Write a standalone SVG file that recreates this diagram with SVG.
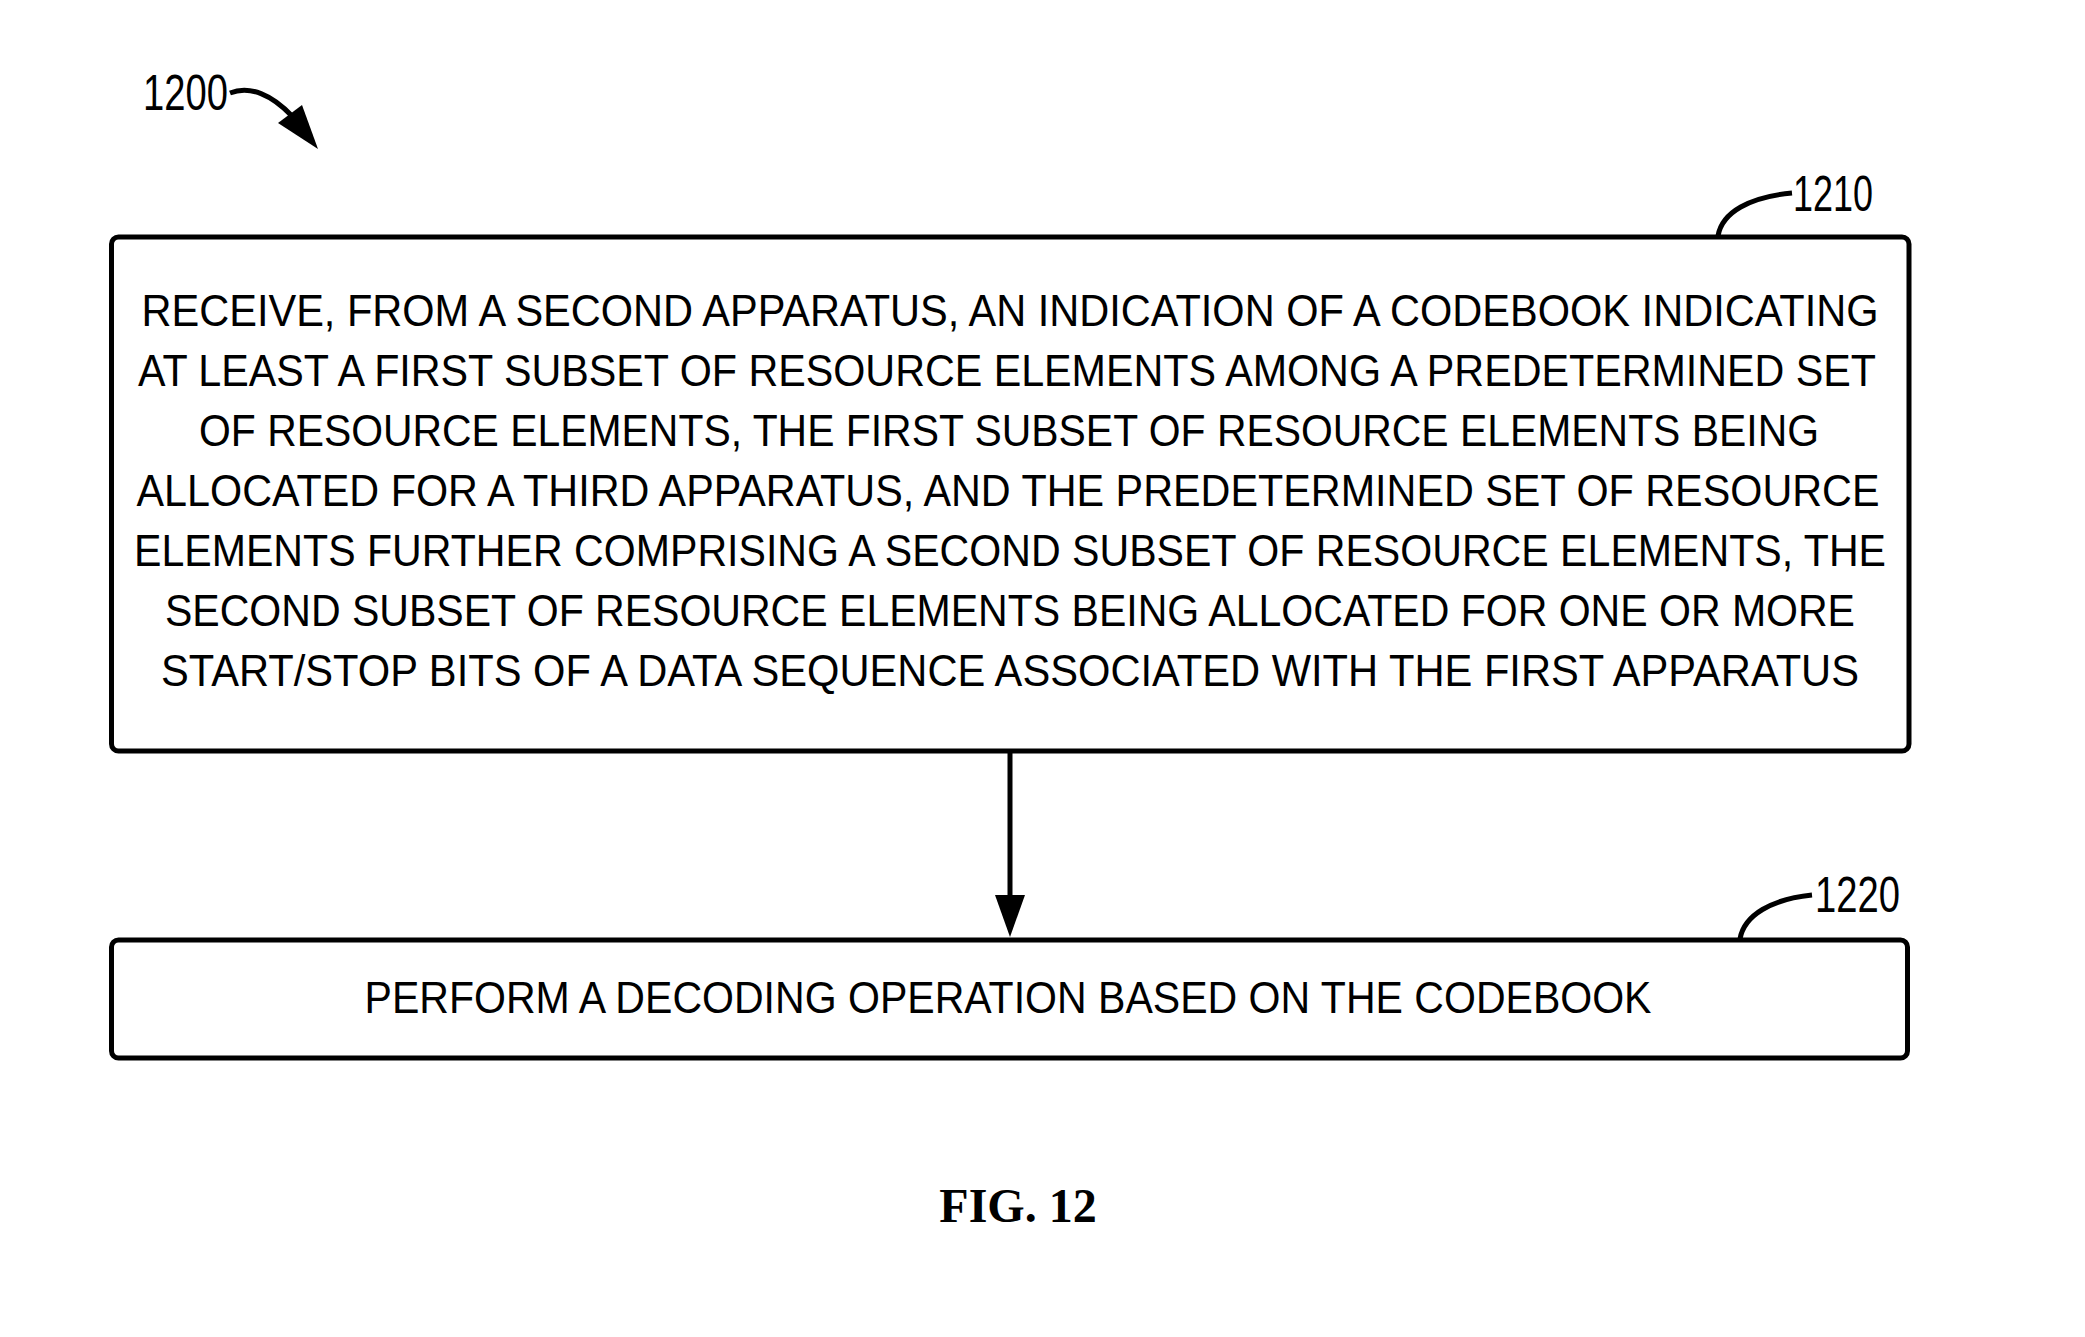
<svg xmlns="http://www.w3.org/2000/svg" width="2085" height="1337" viewBox="0 0 2085 1337">
<style>
.box{fill:#fff;stroke:#000;stroke-width:5}
.t{font-family:"Liberation Sans",Arial,sans-serif;font-size:45px;fill:#000}
.lbl{font-family:"Liberation Sans",Arial,sans-serif;font-size:50px;fill:#000}
.lead{fill:none;stroke:#000;stroke-width:5}
.fig{font-family:"Liberation Serif","Times New Roman",serif;font-size:48px;font-weight:bold;fill:#000}
</style>
<rect width="2085" height="1337" fill="#fff"/>
<g id="label-1200">
<text class="lbl" x="143" y="110" textLength="85" lengthAdjust="spacingAndGlyphs">1200</text>
<path class="lead" d="M230,93 C250,85 272,95 292,116"/>
<polygon points="318,149 278,123 302,105" fill="#000"/>
</g>
<g id="node-1210">
<rect class="box" x="111.5" y="237" width="1797.5" height="514" rx="7"/>
<text class="t" x="1010" y="326" text-anchor="middle" textLength="1737" lengthAdjust="spacingAndGlyphs">RECEIVE, FROM A SECOND APPARATUS, AN INDICATION OF A CODEBOOK INDICATING</text>
<text class="t" x="1007" y="386" text-anchor="middle" textLength="1738" lengthAdjust="spacingAndGlyphs">AT LEAST A FIRST SUBSET OF RESOURCE ELEMENTS AMONG A PREDETERMINED SET</text>
<text class="t" x="1009" y="446" text-anchor="middle" textLength="1620" lengthAdjust="spacingAndGlyphs">OF RESOURCE ELEMENTS, THE FIRST SUBSET OF RESOURCE ELEMENTS BEING</text>
<text class="t" x="1008" y="506" text-anchor="middle" textLength="1743" lengthAdjust="spacingAndGlyphs">ALLOCATED FOR A THIRD APPARATUS, AND THE PREDETERMINED SET OF RESOURCE</text>
<text class="t" x="1010" y="566" text-anchor="middle" textLength="1752" lengthAdjust="spacingAndGlyphs">ELEMENTS FURTHER COMPRISING A SECOND SUBSET OF RESOURCE ELEMENTS, THE</text>
<text class="t" x="1010" y="626" text-anchor="middle" textLength="1690" lengthAdjust="spacingAndGlyphs">SECOND SUBSET OF RESOURCE ELEMENTS BEING ALLOCATED FOR ONE OR MORE</text>
<text class="t" x="1010" y="686" text-anchor="middle" textLength="1698" lengthAdjust="spacingAndGlyphs">START/STOP BITS OF A DATA SEQUENCE ASSOCIATED WITH THE FIRST APPARATUS</text>
<path class="lead" d="M1718,236 C1722,212 1750,197 1792,193"/>
<text class="lbl" x="1793" y="211" textLength="80" lengthAdjust="spacingAndGlyphs">1210</text>
</g>
<g id="node-1220">
<rect class="box" x="111.5" y="940" width="1796" height="118" rx="7"/>
<text class="t" x="1008" y="1013" text-anchor="middle" textLength="1287" lengthAdjust="spacingAndGlyphs">PERFORM A DECODING OPERATION BASED ON THE CODEBOOK</text>
<path class="lead" d="M1740,939 C1744,915 1772,899 1812,895"/>
<text class="lbl" x="1815" y="912" textLength="85" lengthAdjust="spacingAndGlyphs">1220</text>
</g>
<g id="connectors">
<line x1="1010" y1="752" x2="1010" y2="897" stroke="#000" stroke-width="5"/>
<polygon points="995,895 1025,895 1010,937" fill="#000"/>
</g>
<text class="fig" x="1018" y="1222" text-anchor="middle">FIG. 12</text>
</svg>
